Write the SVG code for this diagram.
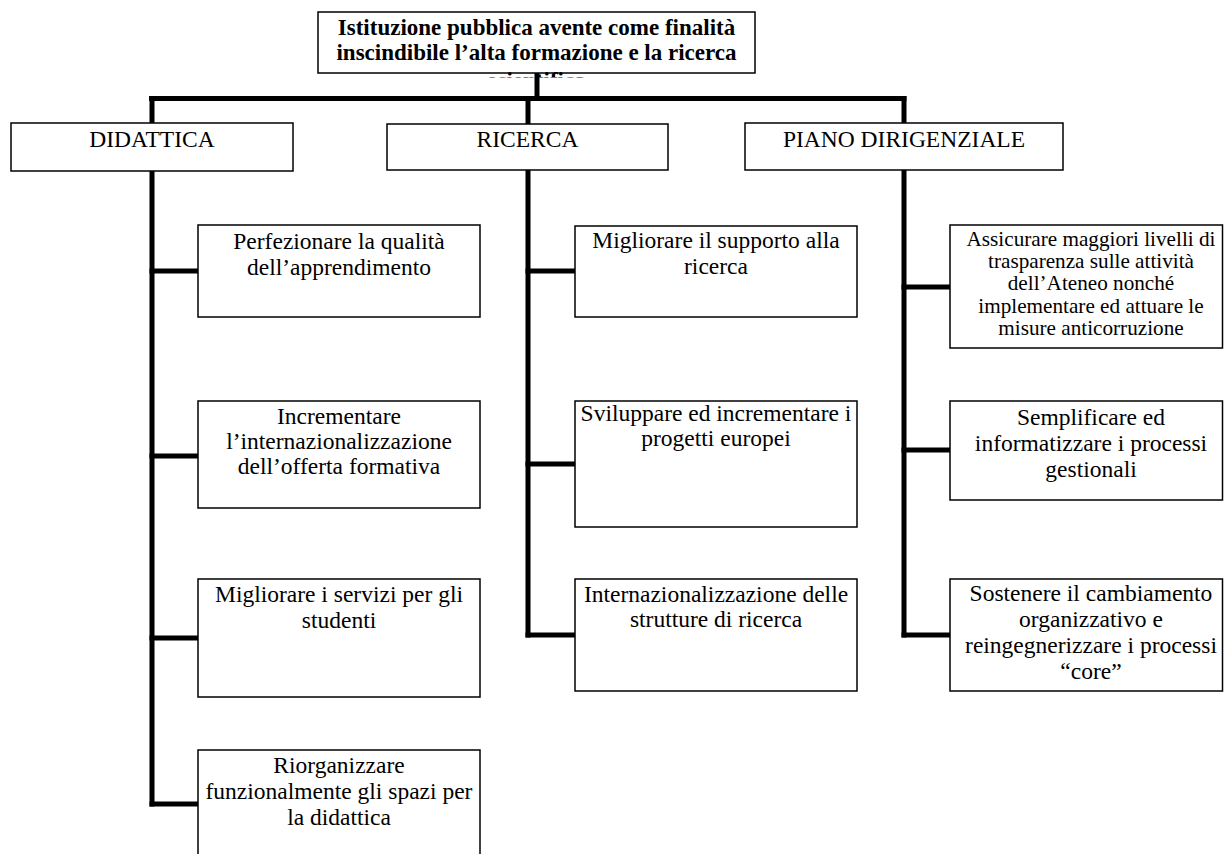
<svg xmlns="http://www.w3.org/2000/svg" width="1224" height="854" viewBox="0 0 1224 854">
<style>
  .box { fill: #ffffff; stroke: #000000; stroke-width: 1.5; }
  .t { font-family: "Liberation Serif", "Times New Roman", serif; font-size: 23.5px; fill: #000000; text-anchor: middle; }
  .ts { font-family: "Liberation Serif", "Times New Roman", serif; font-size: 21.2px; fill: #000000; text-anchor: middle; }
  .tb { font-family: "Liberation Serif", "Times New Roman", serif; font-size: 23px; font-weight: bold; fill: #000000; text-anchor: middle; }
  .conn line { stroke: #000000; stroke-width: 5; }
</style>
<defs>
  <clipPath id="topclip"><rect x="318" y="0" width="437" height="77.5"/></clipPath>
</defs>
<rect x="0" y="0" width="1224" height="854" fill="#ffffff"/>

<g id="connectors" class="conn">
  <line x1="537" y1="73" x2="537" y2="101"/>
  <line x1="149" y1="98.5" x2="906.5" y2="98.5"/>
  <line x1="152" y1="96" x2="152" y2="123"/>
  <line x1="528" y1="96" x2="528" y2="124"/>
  <line x1="904" y1="96" x2="904" y2="123"/>
  <line x1="152" y1="171" x2="152" y2="806.5"/>
  <line x1="149.5" y1="271" x2="198" y2="271"/>
  <line x1="149.5" y1="456" x2="198" y2="456"/>
  <line x1="149.5" y1="638" x2="198" y2="638"/>
  <line x1="149.5" y1="804" x2="198" y2="804"/>
  <line x1="528" y1="170" x2="528" y2="637.5"/>
  <line x1="525.5" y1="271" x2="575" y2="271"/>
  <line x1="525.5" y1="464" x2="575" y2="464"/>
  <line x1="525.5" y1="635" x2="575" y2="635"/>
  <line x1="904" y1="170" x2="904" y2="637.5"/>
  <line x1="901.5" y1="287" x2="950" y2="287"/>
  <line x1="901.5" y1="450" x2="950" y2="450"/>
  <line x1="901.5" y1="635" x2="950" y2="635"/>
</g>

<g id="root">
  <text class="tb" x="536.5" y="87.5" clip-path="url(#topclip)">scientifica</text>
  <rect class="box" x="318" y="12" width="437" height="61" fill="none" style="fill:none"/>
  <text class="tb" x="536.5" y="35">Istituzione pubblica avente come finalità</text>
  <text class="tb" x="536.5" y="60">inscindibile l’alta formazione e la ricerca</text>
</g>

<g id="didattica">
  <rect class="box" x="11" y="123" width="282" height="48"/>
  <text class="t" x="152" y="147">DIDATTICA</text>
</g>
<g id="ricerca">
  <rect class="box" x="387" y="124" width="281" height="46"/>
  <text class="t" x="527.5" y="147">RICERCA</text>
</g>
<g id="piano">
  <rect class="box" x="745" y="123" width="318" height="47"/>
  <text class="t" x="904" y="147">PIANO DIRIGENZIALE</text>
</g>

<g id="perfezionare">
  <rect class="box" x="198" y="225" width="282" height="92"/>
  <text class="t" x="339" y="248.5">Perfezionare la qualità</text>
  <text class="t" x="339" y="274.5">dell’apprendimento</text>
</g>
<g id="incrementare">
  <rect class="box" x="198" y="401" width="282" height="107"/>
  <text class="t" x="339" y="424">Incrementare</text>
  <text class="t" x="339" y="449">l’internazionalizzazione</text>
  <text class="t" x="339" y="474">dell’offerta formativa</text>
</g>
<g id="servizi">
  <rect class="box" x="198" y="579" width="282" height="118"/>
  <text class="t" x="339" y="602">Migliorare i servizi per gli</text>
  <text class="t" x="339" y="628">studenti</text>
</g>
<g id="spazi">
  <rect class="box" x="198" y="750" width="282" height="120"/>
  <text class="t" x="339" y="773">Riorganizzare</text>
  <text class="t" x="339" y="799">funzionalmente gli spazi per</text>
  <text class="t" x="339" y="825">la didattica</text>
</g>

<g id="supporto">
  <rect class="box" x="575" y="226" width="282" height="91"/>
  <text class="t" x="716" y="248">Migliorare il supporto alla</text>
  <text class="t" x="716" y="274">ricerca</text>
</g>
<g id="progetti">
  <rect class="box" x="575" y="401" width="282" height="126"/>
  <text class="t" x="716" y="421">Sviluppare ed incrementare i</text>
  <text class="t" x="716" y="446">progetti europei</text>
</g>
<g id="strutture">
  <rect class="box" x="575" y="579" width="282" height="112"/>
  <text class="t" x="716" y="602">Internazionalizzazione delle</text>
  <text class="t" x="716" y="627">strutture di ricerca</text>
</g>

<g id="trasparenza">
  <rect class="box" x="950" y="225" width="272.5" height="123"/>
  <text class="ts" x="1091" y="246">Assicurare maggiori livelli di</text>
  <text class="ts" x="1091" y="268">trasparenza sulle attività</text>
  <text class="ts" x="1091" y="290">dell’Ateneo nonché</text>
  <text class="ts" x="1091" y="313">implementare ed attuare le</text>
  <text class="ts" x="1091" y="335">misure anticorruzione</text>
</g>
<g id="semplificare">
  <rect class="box" x="950" y="401" width="272.5" height="99"/>
  <text class="t" x="1091" y="425">Semplificare ed</text>
  <text class="t" x="1091" y="451">informatizzare i processi</text>
  <text class="t" x="1091" y="477">gestionali</text>
</g>
<g id="cambiamento">
  <rect class="box" x="950" y="579" width="272.5" height="112"/>
  <text class="t" x="1091" y="601">Sostenere il cambiamento</text>
  <text class="t" x="1091" y="627">organizzativo e</text>
  <text class="t" x="1091" y="653">reingegnerizzare i processi</text>
  <text class="t" x="1091" y="679">“core”</text>
</g>
</svg>
